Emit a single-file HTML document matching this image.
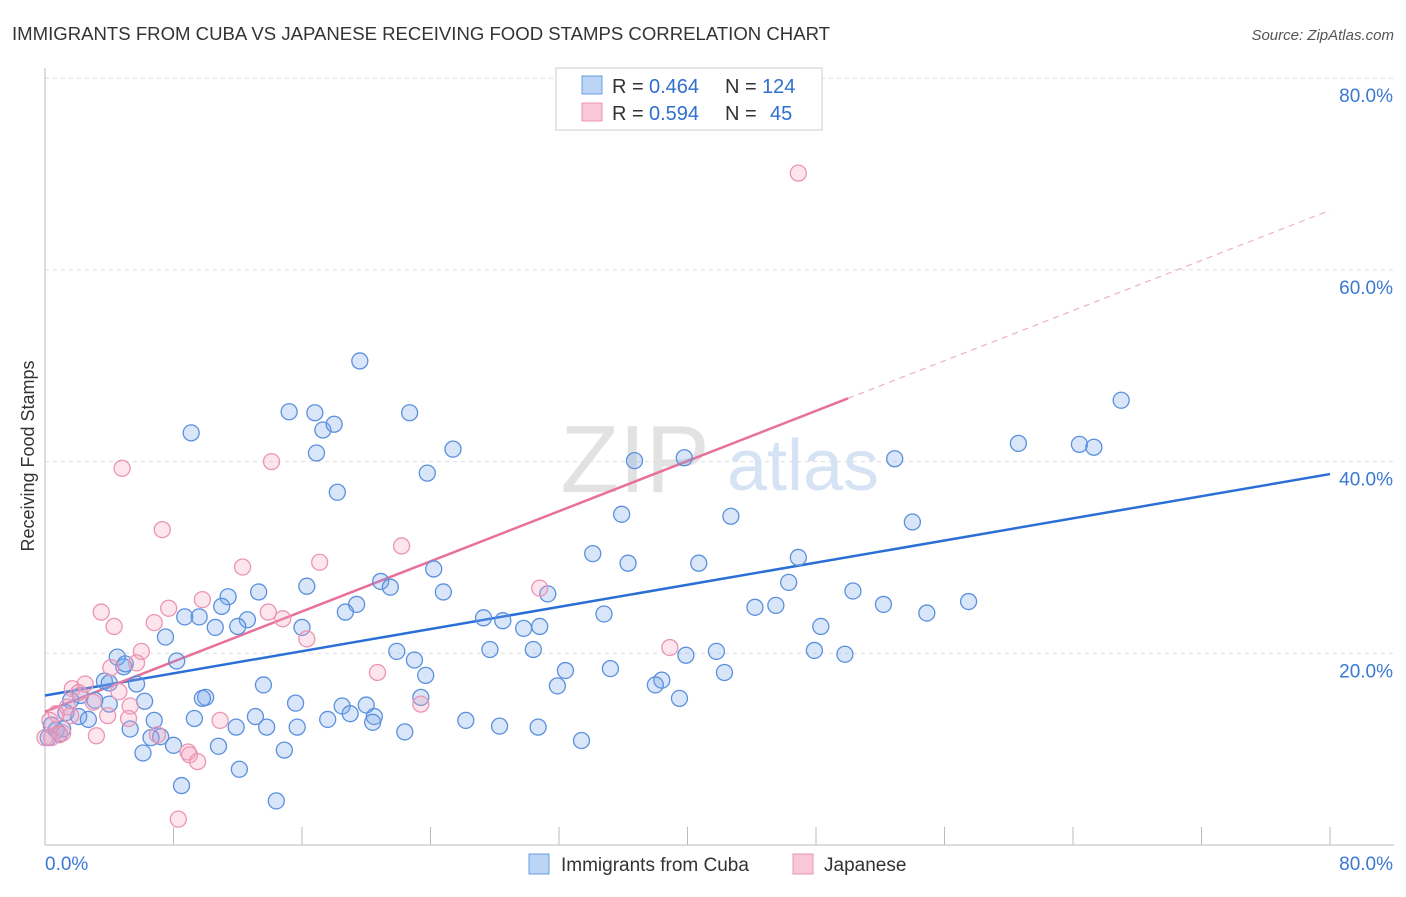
<!DOCTYPE html>
<html><head><meta charset="utf-8"><style>
body{margin:0;background:#fff;font-family:"Liberation Sans",sans-serif;}
svg text{font-family:"Liberation Sans",sans-serif;}
</style></head><body>
<svg id="chart" width="1406" height="892" viewBox="0 0 1406 892" xmlns="http://www.w3.org/2000/svg">
<text x="12" y="40" font-size="18" fill="#333" textLength="818" lengthAdjust="spacingAndGlyphs">IMMIGRANTS FROM CUBA VS JAPANESE RECEIVING FOOD STAMPS CORRELATION CHART</text>
<text x="1394" y="40" font-size="15" fill="#555" text-anchor="end" font-style="italic">Source: ZipAtlas.com</text>
<text transform="translate(34,456) rotate(-90)" font-size="18" fill="#333" text-anchor="middle">Receiving Food Stamps</text>
<g>
<text x="635" y="492" font-size="96" fill="#e2e2e2" text-anchor="middle" font-family="Liberation Serif">ZIP</text>
<text x="803" y="490" font-size="72" fill="#d6e3f5" text-anchor="middle">atlas</text>
</g>
<g id="grid"></g>
<g id="axes"></g>
<g id="trend"></g>
<g id="points"></g>
<g>
<rect x="556" y="68" width="266" height="62" fill="#fff" stroke="#ccc"/>
<rect x="582" y="76" width="20" height="18" fill="#bcd4f6" stroke="#6a9de0"/>
<text x="612" y="93" font-size="20" fill="#333">R =</text>
<text x="649" y="93" font-size="20" fill="#2e6fd0">0.464</text>
<text x="725" y="93" font-size="20" fill="#333">N =</text>
<text x="762" y="93" font-size="20" fill="#2e6fd0">124</text>
<rect x="582" y="103" width="20" height="18" fill="#f9c8d8" stroke="#eb95b3"/>
<text x="612" y="120" font-size="20" fill="#333">R =</text>
<text x="649" y="120" font-size="20" fill="#2e6fd0">0.594</text>
<text x="725" y="120" font-size="20" fill="#333">N =</text>
<text x="770" y="120" font-size="20" fill="#2e6fd0">45</text>
</g>
<g>
<rect x="529" y="854" width="20" height="20" fill="#bcd4f6" stroke="#6a9de0"/>
<text x="561" y="871" font-size="19" fill="#333">Immigrants from Cuba</text>
<rect x="793" y="854" width="20" height="20" fill="#f9c8d8" stroke="#eb95b3"/>
<text x="824" y="871" font-size="19" fill="#333">Japanese</text>
</g>
</svg>
<script>
const yTicks=[20,40,60,80];
const yTickLabels=["20.0%","40.0%","60.0%","80.0%"];
const xTicks=[0,8,16,24,32,40,48,56,64,72,80];
const blueX=[19.6,9.1,15.2,16.8,17.3,18.0,16.9,22.7,25.4,23.8,18.2,36.7,39.8,67.0,60.6,64.4,65.3,52.9,54.0,42.7,35.9,34.1,36.3,40.7,46.9,46.3,50.3,52.2,54.9,57.5,45.5,44.2,48.3,47.9,49.8,34.8,31.3,24.2,24.8,20.9,21.5,16.3,13.3,11.4,11.0,12.6,12.0,10.6,8.7,9.6,7.5,8.2,16.0,19.4,18.7,27.3,28.5,29.8,30.8,27.7,30.4,21.9,23.0,23.7,32.4,31.9,35.2,38.4,38.0,39.9,41.8,42.3,39.5,23.4,13.6,15.6,10.0,9.8,6.2,5.7,4.9,4.5,5.0,3.7,4.0,3.1,4.0,2.2,1.6,1.3,2.1,2.7,0.4,0.7,0.9,1.1,0.2,5.3,6.8,9.3,11.9,13.1,13.8,15.7,17.6,18.5,19.0,20.0,20.5,20.4,22.4,26.2,28.3,30.7,33.4,7.2,8.0,6.1,10.8,14.9,12.1,8.5,14.4,6.6];
const blueY=[50.5,43.0,45.2,45.1,43.3,43.9,40.9,45.1,41.3,38.8,36.8,40.1,40.4,46.4,41.9,41.8,41.5,40.3,33.7,34.3,34.5,30.4,29.4,29.4,30.0,27.4,26.5,25.1,24.2,25.4,25.0,24.8,22.8,20.3,19.9,24.1,26.2,28.8,26.4,27.5,26.9,27.0,26.4,25.9,24.9,23.5,22.8,22.7,23.8,23.8,21.7,19.2,22.7,25.1,24.3,23.7,23.4,22.6,22.8,20.4,20.4,20.2,19.3,17.7,18.2,16.6,18.4,17.2,16.7,19.8,20.2,18.0,15.3,15.4,16.7,14.8,15.4,15.3,15.0,16.8,18.6,19.6,18.9,17.1,16.9,15.1,14.7,15.6,15.1,13.8,13.4,13.1,12.5,12.0,11.6,12.1,11.2,12.1,13.0,13.2,12.3,13.4,12.3,12.3,13.1,14.5,13.7,14.6,13.4,12.8,11.8,13.0,12.4,12.3,10.9,11.3,10.4,9.6,10.3,9.9,7.9,6.2,4.6,11.2];
const pinkX=[46.9,4.8,14.1,7.3,22.2,17.1,12.3,30.8,9.8,7.7,13.9,14.8,3.5,6.8,4.3,16.3,6.0,38.9,4.1,5.7,20.7,4.6,1.7,2.5,2.1,5.3,1.4,3.9,5.2,3.0,0.7,0.3,1.6,23.4,7.0,3.2,10.9,1.1,0.4,0.0,8.9,9.0,9.5,8.3,0.9];
const pinkY=[70.1,39.3,40.0,32.9,31.2,29.5,29.0,26.8,25.6,24.7,24.3,23.6,24.3,23.2,22.8,21.5,20.2,20.6,18.5,19.0,18.0,16.0,16.3,16.8,15.9,14.5,14.4,13.5,13.2,14.9,13.7,13.0,13.5,14.7,11.5,11.4,13.0,11.7,11.2,11.2,9.7,9.4,8.7,2.7,11.5];
const blueTrend=[15.6,38.7];
const pinkTrend=[13.9,0.654];
const pinkSolidEnd=50;
const NS="http://www.w3.org/2000/svg";
const X=v=>45+v*(1285/80);
const Y=v=>845-v*(766.8/80);
function mk(tag,attrs,parent){const e=document.createElementNS(NS,tag);for(const k in attrs)e.setAttribute(k,attrs[k]);parent.appendChild(e);return e;}
const grid=document.getElementById('grid'),axes=document.getElementById('axes'),trend=document.getElementById('trend'),pts=document.getElementById('points');
yTicks.forEach((t,i)=>{
 const l=mk('line',{x1:45,x2:1394,y1:Y(t),y2:Y(t),stroke:'#ddd','stroke-dasharray':'4,4'},grid);
 
 
 const tx=mk('text',{x:1393,y:Y(t)+24,'font-size':19,fill:'#3a78d4','text-anchor':'end'},axes);
 tx.textContent=yTickLabels[i];
 
 
});
const ax=mk('line',{x1:45,x2:1394,y1:845,y2:845,stroke:'#bbb'},axes);


const ay=mk('line',{x1:45,x2:45,y1:68,y2:845,stroke:'#bbb'},axes);


xTicks.forEach(t=>{
 const l=mk('line',{x1:X(t),x2:X(t),y1:827,y2:845,stroke:'#bbb'},axes);
 
 
});
const xl0=mk('text',{x:45,y:870,'font-size':19,fill:'#3a78d4'},axes);xl0.textContent='0.0%';


const xl1=mk('text',{x:1393,y:870,'font-size':19,fill:'#3a78d4','text-anchor':'end'},axes);xl1.textContent='80.0%';


for(let i=0;i<blueX.length;i++){
 const c=mk('circle',{cx:X(blueX[i]),cy:Y(blueY[i]),r:8,fill:'rgba(120,165,235,0.28)',stroke:'#5a90de','stroke-width':1.3},pts);
 
 
}
for(let i=0;i<pinkX.length;i++){
 const c=mk('circle',{cx:X(pinkX[i]),cy:Y(pinkY[i]),r:8,fill:'rgba(245,160,190,0.28)',stroke:'#ec94b4','stroke-width':1.3},pts);
 
 
}
const bl=mk('line',{x1:X(0),y1:Y(blueTrend[0]),x2:X(80),y2:Y(blueTrend[1]),stroke:'#2a6fd6','stroke-width':2.5},trend);


const pl=mk('line',{x1:X(0),y1:Y(pinkTrend[0]),x2:X(pinkSolidEnd),y2:Y(pinkTrend[0]+pinkTrend[1]*pinkSolidEnd),stroke:'#e8709a','stroke-width':2.5},trend);


const pd=mk('line',{x1:X(pinkSolidEnd),y1:Y(pinkTrend[0]+pinkTrend[1]*pinkSolidEnd),x2:X(80),y2:Y(pinkTrend[0]+pinkTrend[1]*80),stroke:'#eeb0c6','stroke-width':1.2,'stroke-dasharray':'6,5'},trend);


</script>
</body></html>
